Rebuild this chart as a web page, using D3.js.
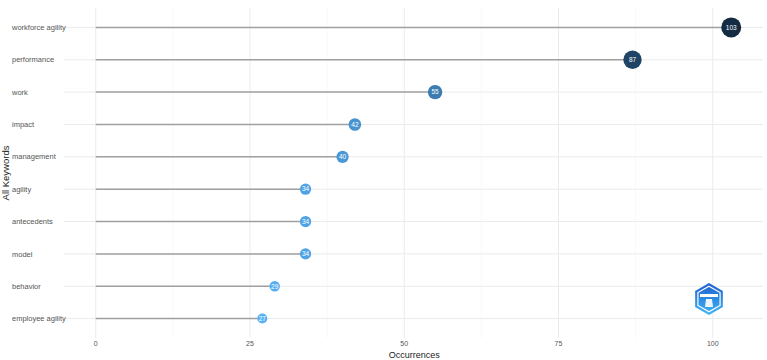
<!DOCTYPE html>
<html>
<head>
<meta charset="utf-8">
<script src="https://cdn.jsdelivr.net/npm/d3@7"></script>
<style>
  body { margin: 0; background: #fff; }
  text { font-family: "Liberation Sans", Arial, sans-serif; }
</style>
</head>
<body>
<svg id="chart" width="767" height="360"></svg>
<script>
var keywords = ["workforce agility", "performance", "work", "impact", "management",
                "agility", "antecedents", "model", "behavior", "employee agility"];
var occurrences = [103, 87, 55, 42, 40, 34, 34, 34, 29, 27];
var xTicks = [0, 25, 50, 75, 100];
var xMinor = [12.5, 37.5, 62.5, 87.5];

var svg = d3.select("#chart");
var margin = {left: 64, right: 4, top: 8, bottom: 22};
var width = 767 - margin.left - margin.right;
var height = 360 - margin.top - margin.bottom;

var x = d3.scaleLinear().domain([-5.15, 108.15]).range([margin.left, margin.left + width]);
var y = d3.scalePoint().domain(keywords).range([margin.top, margin.top + height]).padding(0.6);

var color = d3.scaleLinear().domain([27, 103]).range(["#56B1F7", "#132B43"])
  .interpolate(d3.interpolateLab);
var radius = d3.scaleSqrt().domain([27, 103]).range([5, 10]);

var g = svg.append("g");

// grid
g.selectAll(".minor").data(xMinor).enter().append("line")
  .attr("x1", function(d){ return x(d); }).attr("x2", function(d){ return x(d); })
  .attr("y1", margin.top).attr("y2", margin.top + height)
  .attr("stroke", "#f4f4f4").attr("stroke-width", 0.6);
g.selectAll(".major").data(xTicks).enter().append("line")
  .attr("x1", function(d){ return x(d); }).attr("x2", function(d){ return x(d); })
  .attr("y1", margin.top).attr("y2", margin.top + height)
  .attr("stroke", "#ebebeb").attr("stroke-width", 1);
g.selectAll(".hgrid").data(keywords).enter().append("line")
  .attr("x1", margin.left).attr("x2", margin.left + width)
  .attr("y1", function(d){ return y(d); }).attr("y2", function(d){ return y(d); })
  .attr("stroke", "#ebebeb").attr("stroke-width", 1);

// x axis labels
g.selectAll(".xlab").data(xTicks).enter().append("text")
  .attr("x", function(d){ return x(d); }).attr("y", 346)
  .attr("text-anchor", "middle").attr("font-size", 7).attr("fill", "#555")
  .text(function(d){ return d; });

// y labels
g.selectAll(".ylab").data(keywords).enter().append("text")
  .attr("x", 12).attr("y", function(d){ return y(d); })
  .attr("dy", "0.35em").attr("font-size", 7.5).attr("fill", "#555")
  .text(function(d){ return d; });

// titles
svg.append("text").attr("x", x(50) + 10).attr("y", 358)
  .attr("text-anchor", "middle").attr("font-size", 9).attr("fill", "#222")
  .text("Occurrences");
svg.append("text").attr("transform", "translate(9," + (margin.top + height / 2) + ") rotate(-90)")
  .attr("text-anchor", "middle").attr("font-size", 9.5).attr("fill", "#222")
  .text("All Keywords");

// lollipops
var rows = keywords.map(function(k, i){ return {k: k, v: occurrences[i]}; });
g.selectAll(".seg").data(rows).enter().append("line")
  .attr("x1", x(0)).attr("x2", function(d){ return x(d.v); })
  .attr("y1", function(d){ return y(d.k); }).attr("y2", function(d){ return y(d.k); })
  .attr("stroke", "#a0a0a0").attr("stroke-width", 1.5);
g.selectAll(".dot").data(rows).enter().append("circle")
  .attr("cx", function(d){ return x(d.v); }).attr("cy", function(d){ return y(d.k); })
  .attr("r", function(d){ return radius(d.v); })
  .attr("fill", function(d){ return color(d.v); });
g.selectAll(".val").data(rows).enter().append("text")
  .attr("x", function(d){ return x(d.v); }).attr("y", function(d){ return y(d.k); })
  .attr("dy", "0.35em").attr("text-anchor", "middle").attr("font-size", 6.5)
  .attr("fill", "#fff").text(function(d){ return d.v; });

// logo
var defs = svg.append("defs");
var lg = defs.append("linearGradient").attr("id", "lg").attr("x1", 0).attr("y1", 0).attr("x2", 0).attr("y2", 1);
lg.append("stop").attr("offset", "0%").attr("stop-color", "#1f5fd0");
lg.append("stop").attr("offset", "100%").attr("stop-color", "#3fb6f5");
var logo = svg.append("g").attr("transform", "translate(709,299)");
var hex = d3.range(6).map(function(i){
  var a = Math.PI / 3 * i - Math.PI / 2;
  return [16 * Math.cos(a), 16 * Math.sin(a)];
});
logo.append("polygon").attr("points", hex.join(" ")).attr("fill", "url(#lg)");
logo.append("polygon").attr("points", hex.map(function(p){ return [p[0] * 0.8, p[1] * 0.8]; }).join(" "))
  .attr("fill", "none").attr("stroke", "#fff").attr("stroke-width", 1.2);
logo.append("rect").attr("x", -9).attr("y", -5).attr("width", 18).attr("height", 3).attr("fill", "#fff");
logo.append("path").attr("d", "M-3,0 L3,0 L4,8 L-4,8 Z").attr("fill", "#fff").attr("opacity", 0.9);
</script>
</body>
</html>
